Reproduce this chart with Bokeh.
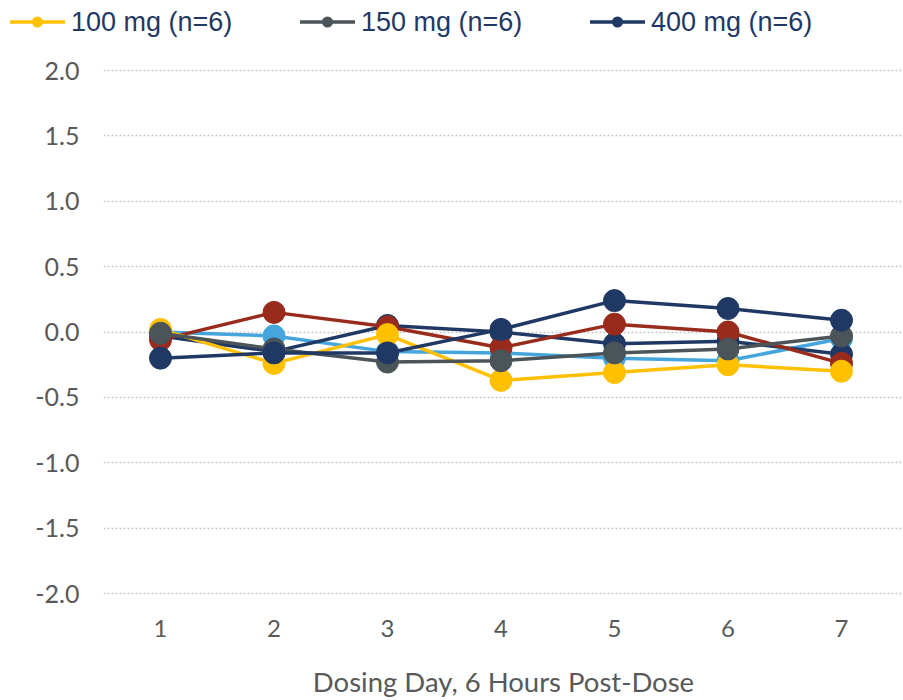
from bokeh.plotting import figure
from bokeh.layouts import column
from bokeh.models import Div, FixedTicker, NumeralTickFormatter
from bokeh.embed import file_html
from bokeh.resources import INLINE

days = [1, 2, 3, 4, 5, 6, 7]
y_ticks = [-2.0, -1.5, -1.0, -0.5, 0.0, 0.5, 1.0, 1.5, 2.0]

dose_100 = [0.02, -0.24, -0.02, -0.37, -0.31, -0.25, -0.30]
dose_150 = [-0.01, -0.13, -0.23, -0.22, -0.16, -0.13, -0.03]
dose_400 = [-0.20, -0.16, -0.16, 0.02, 0.24, 0.18, 0.09]
series_blue = [0.00, -0.03, -0.15, -0.16, -0.20, -0.22, -0.05]
series_red = [-0.06, 0.15, 0.04, -0.12, 0.06, 0.00, -0.24]
series_navy2 = [-0.03, -0.15, 0.05, 0.00, -0.09, -0.07, -0.17]

labels = ["100 mg (n=6)", "150 mg (n=6)", "400 mg (n=6)"]
legend_colors = ["#FFC000", "#4A5459", "#1F3864"]

LEG_H = 44
PX_PER_UNIT = 130.75

# ---- legend strip ----
parts = []
for i, (lab, col) in enumerate(zip(labels, legend_colors)):
    x0 = 10 + 290 * i
    parts.append(
        f'<svg style="position:absolute;left:{x0}px;top:8px" width="55" height="28">'
        f'<line x1="0" y1="14" x2="55" y2="14" stroke="{col}" stroke-width="3.5"/>'
        f'<circle cx="27.5" cy="14" r="5.5" fill="{col}"/></svg>'
        f'<span style="position:absolute;left:{x0 + 61}px;top:8px;line-height:28px;'
        f"font-family:'Liberation Sans';font-size:27px;color:#1F3864;white-space:nowrap\">"
        f'{lab}</span>'
    )
legend_div = Div(
    text=f'<div style="position:relative;width:903px;height:{LEG_H}px;">' + "".join(parts) + "</div>",
    width=903, height=LEG_H, styles={"margin": "0", "padding": "0"},
)

# ---- main chart ----
p = figure(width=903, height=700 - LEG_H,
           x_range=(1 - 57 / 113.5, 7 + 62 / 113.5),
           y_range=(-2.0 - 3 / PX_PER_UNIT, 2.0 + 4 / PX_PER_UNIT),
           output_backend="svg", toolbar_location=None,
           min_border_left=103, min_border_right=0,
           min_border_top=66 - LEG_H, min_border_bottom=104)
p.outline_line_color = None
p.background_fill_color = "white"

def draw(vals, color):
    p.line(days, vals, line_color=color, line_width=3.5)
    p.scatter(days, vals, size=22, fill_color=color, line_color=color)

draw(series_blue, "#45A5DD")
draw(series_navy2, "#1F3864")
draw(series_red, "#982B1C")
draw(dose_100, legend_colors[0])
draw(dose_150, legend_colors[1])
draw(dose_400, legend_colors[2])

p.xgrid.grid_line_color = None
p.ygrid.grid_line_color = "#C8C8C8"
p.ygrid.grid_line_dash = "2 2"
p.ygrid.grid_line_width = 1.5
p.ygrid.ticker = FixedTicker(ticks=y_ticks)

p.xaxis.ticker = FixedTicker(ticks=days)
p.yaxis.ticker = FixedTicker(ticks=y_ticks)
p.yaxis.formatter = NumeralTickFormatter(format="0.0")

for ax in (p.xaxis[0], p.yaxis[0]):
    ax.axis_line_color = None
    ax.major_tick_line_color = None
    ax.minor_tick_line_color = None
    ax.major_label_text_font = "Lato"
    ax.major_label_text_color = "#595959"

p.xaxis.major_label_text_font_size = "24px"
p.yaxis.major_label_text_font_size = "25px"
p.yaxis.major_label_standoff = 18
p.xaxis.major_label_standoff = 17

p.xaxis.axis_label = "Dosing Day, 6 Hours Post-Dose"
p.xaxis.axis_label_text_font = "Lato"
p.xaxis.axis_label_text_font_style = "normal"
p.xaxis.axis_label_text_font_size = "27.5px"
p.xaxis.axis_label_text_color = "#595959"
p.xaxis.axis_label_standoff = 25

layout = column(legend_div, p, spacing=0)
open("out.html", "w").write(file_html(layout, INLINE))
